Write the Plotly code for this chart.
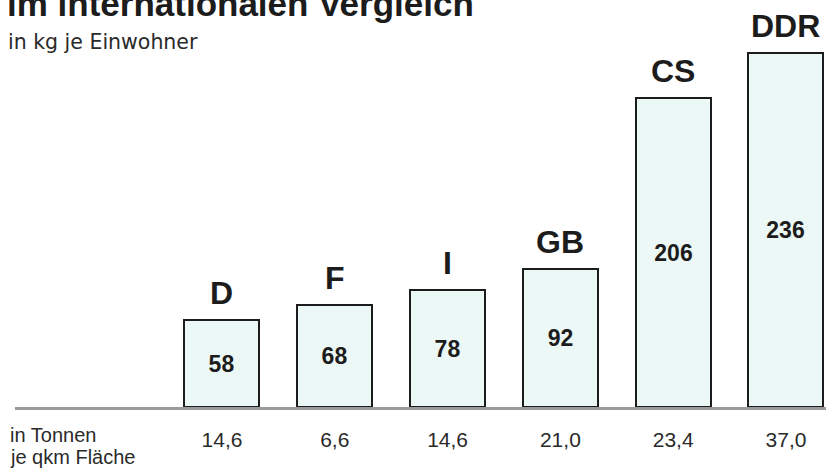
import plotly.graph_objects as go

# --- data ---
countries = ["D", "F", "I", "GB", "CS", "DDR"]
kg_per_inhabitant = [58, 68, 78, 92, 206, 236]
tonnes_per_km2 = [14.6, 6.6, 14.6, 21.0, 23.4, 37.0]

title_line = "im internationalen Vergleich"
subtitle = "in kg je Einwohner"
row_label = ["in Tonnen", "je qkm Fläche"]

ink = "#1c1c1c"
fill = "#ecf8f5"
font_main = "Liberation Sans, Arial, sans-serif"
font_wide = "DejaVu Sans, Verdana, sans-serif"

x_pos = list(range(1, len(countries) + 1))
tick_text = [f"{v:.1f}".replace(".", ",") for v in tonnes_per_km2]

fig = go.Figure()

fig.add_trace(go.Bar(
    x=x_pos,
    y=kg_per_inhabitant,
    width=0.665,
    marker=dict(color=fill, line=dict(color=ink, width=2)),
    text=[str(v) for v in kg_per_inhabitant],
    textposition="inside",
    insidetextanchor="middle",
    textangle=0,
    constraintext="none",
    textfont=dict(family=font_main, size=23, color=ink, weight="bold"),
    hoverinfo="skip",
    showlegend=False,
))

# country labels above each bar
for x, v, name in zip(x_pos, kg_per_inhabitant, countries):
    fig.add_annotation(
        x=x, y=v, xref="x", yref="y",
        text=f"<b>{name}</b>",
        showarrow=False,
        yanchor="bottom",
        yshift=7,
        font=dict(family=font_main, size=32, color=ink),
    )

# headline (cropped at the top edge, as in the scan) and subtitle
fig.add_annotation(
    x=0, y=1, xref="paper", yref="paper",
    xanchor="left", yanchor="top",
    xshift=-10, yshift=18,
    text=f"<b>{title_line}</b>",
    showarrow=False,
    font=dict(family=font_main, size=35, color=ink),
)
fig.add_annotation(
    x=0, y=1, xref="paper", yref="paper",
    xanchor="left", yanchor="top",
    xshift=-9, yshift=-28,
    text=subtitle,
    showarrow=False,
    font=dict(family=font_wide, size=20.5, color="#2a2a2a"),
)

# row label for the bottom figures (two lines, tight spacing)
for i, line in enumerate(row_label):
    fig.add_annotation(
        x=0, y=0, xref="paper", yref="paper",
        xanchor="left", yanchor="top",
        xshift=-6, yshift=-16 - 22 * i,
        text=line,
        showarrow=False,
        borderpad=0,
        font=dict(family=font_main, size=20, color="#2a2a2a"),
    )

fig.update_layout(
    width=826,
    height=471,
    margin=dict(l=15, r=0, t=0, b=64),
    paper_bgcolor="white",
    plot_bgcolor="white",
    bargap=0,
    xaxis=dict(
        range=[-0.835, 6.355],
        tickvals=x_pos,
        ticktext=tick_text,
        ticks="",
        ticklabelstandoff=12,
        tickfont=dict(family=font_main, size=21, color="#2a2a2a"),
        showline=True,
        linecolor="#9a9a9a",
        linewidth=2.5,
        showgrid=False,
        zeroline=False,
        layer="below traces",
        fixedrange=True,
    ),
    yaxis=dict(
        range=[0, 271.3],
        visible=False,
        showgrid=False,
        zeroline=False,
        fixedrange=True,
    ),
)

fig.write_html(
    "out.html",
    config={"displayModeBar": False},
    post_script="document.body.style.margin='0';",
)
